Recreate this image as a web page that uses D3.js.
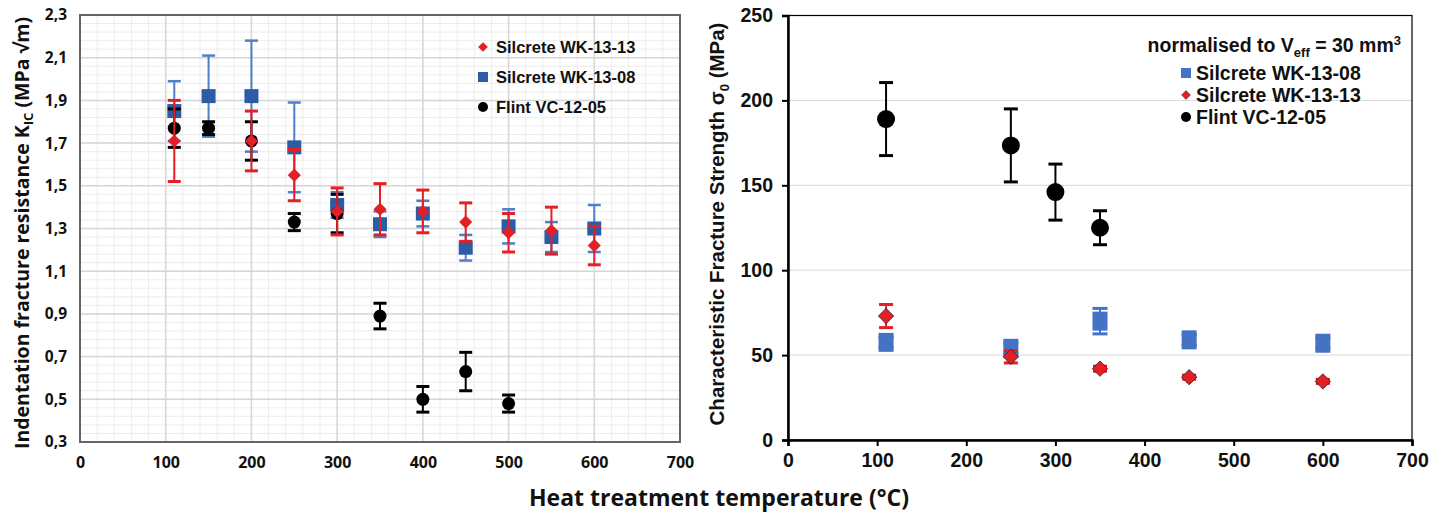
<!DOCTYPE html>
<html>
<head>
<meta charset="utf-8">
<script src="https://cdn.jsdelivr.net/npm/d3@7"></script>
<style>
  body { margin: 0; background: #fff; }
  .lbl { font-weight: bold; fill: #111; }
</style>
</head>
<body>
<svg id="chart" width="1445" height="514"></svg>
<script>
// ---- left panel: indentation fracture resistance ----
var tempsLeft = [110, 150, 200, 250, 300, 350, 400, 450, 500, 550, 600];
var kicWK1313 = [1.71, null, 1.71, 1.55, 1.38, 1.39, 1.38, 1.33, 1.28, 1.29, 1.22];
var kicWK1313Err = [0.19, null, 0.14, 0.12, 0.11, 0.12, 0.10, 0.09, 0.09, 0.11, 0.09];
var kicWK1308 = [1.85, 1.92, 1.92, 1.68, 1.41, 1.32, 1.37, 1.21, 1.31, 1.26, 1.30];
var kicWK1308Err = [0.14, 0.19, 0.26, 0.21, 0.06, 0.06, 0.06, 0.06, 0.08, 0.07, 0.11];
var tempsFlintLeft = [110, 150, 200, 250, 300, 350, 400, 450, 500];
var kicFlint = [1.77, 1.77, 1.71, 1.33, 1.37, 0.89, 0.50, 0.63, 0.48];
var kicFlintErr = [0.09, 0.03, 0.09, 0.04, 0.09, 0.06, 0.06, 0.09, 0.04];
var leftYTicks = [0.3, 0.5, 0.7, 0.9, 1.1, 1.3, 1.5, 1.7, 1.9, 2.1, 2.3];
var xTicks = [0, 100, 200, 300, 400, 500, 600, 700];

// ---- right panel: characteristic fracture strength ----
var tempsSilRight = [110, 250, 350, 450, 600];
var sigWK1308 = [57.5, 54, 70, 59, 57];
var sigWK1308Err = [3, 3, 7.5, 3, 3];
var sigWK1313 = [73, 49, 42, 37, 34.5];
var sigWK1313Err = [6.8, 3.6, 1.5, 1.2, 1.2];
var tempsFlintRight = [110, 250, 300, 350];
var sigFlint = [189, 173.5, 146, 125];
var sigFlintErr = [21.5, 21.5, 16.5, 10];
var rightYTicks = [0, 50, 100, 150, 200, 250];

var RED = '#e41f26', BLUE_L = '#2d5ca6', BLUE_L_ERR = '#4f7fc8', BLUE_R = '#4472c4';
var SANS = '"Liberation Sans", Arial, sans-serif', OPEN = '"Open Sans", sans-serif';

var svg = d3.select('#chart');
var comma = d3.formatLocale({ decimal: ',', thousands: '.', grouping: [3], currency: ['', ''] }).format('.1f');

function pts(xs, ys, es) {
    var out = [];
    xs.forEach(function(x, i) {
        if (ys[i] != null) out.push({ x: x, y: ys[i], e: es[i] });
    });
    return out;
}

// error bars with caps
function errBars(g, data, x, y, color, capW, sw, capSw) {
    var eb = g.append('g').selectAll('g').data(data).enter().append('g');
    eb.append('line')
        .attr('x1', function(d) { return x(d.x); }).attr('x2', function(d) { return x(d.x); })
        .attr('y1', function(d) { return y(d.y + d.e); }).attr('y2', function(d) { return y(d.y - d.e); })
        .attr('stroke', color).attr('stroke-width', sw);
    [1, -1].forEach(function(s) {
        eb.append('line')
            .attr('x1', function(d) { return x(d.x) - capW / 2; }).attr('x2', function(d) { return x(d.x) + capW / 2; })
            .attr('y1', function(d) { return y(d.y + s * d.e); }).attr('y2', function(d) { return y(d.y + s * d.e); })
            .attr('stroke', color).attr('stroke-width', capSw);
    });
}

// ================= LEFT =================
var L = { left: 80, right: 680, top: 15, bottom: 442 };
var xL = d3.scaleLinear().domain([0, 700]).range([L.left, L.right]);
var yL = d3.scaleLinear().domain([0.3, 2.3]).range([L.bottom, L.top]);
var gL = svg.append('g');

// minor grid
gL.append('g').selectAll('line').data(d3.range(0, 701, 20)).enter().append('line')
    .attr('x1', xL).attr('x2', xL).attr('y1', L.top).attr('y2', L.bottom)
    .attr('stroke', '#ededed').attr('stroke-width', 1);
gL.append('g').selectAll('line').data(d3.range(0, 51).map(function(k) { return 0.3 + k * 0.04; })).enter().append('line')
    .attr('y1', yL).attr('y2', yL).attr('x1', L.left).attr('x2', L.right)
    .attr('stroke', '#ededed').attr('stroke-width', 1);
// major grid
gL.append('g').selectAll('line').data(xTicks).enter().append('line')
    .attr('x1', xL).attr('x2', xL).attr('y1', L.top).attr('y2', L.bottom)
    .attr('stroke', '#d6d6d6').attr('stroke-width', 1.5);
gL.append('g').selectAll('line').data(leftYTicks).enter().append('line')
    .attr('y1', yL).attr('y2', yL).attr('x1', L.left).attr('x2', L.right)
    .attr('stroke', '#d6d6d6').attr('stroke-width', 1.5);
gL.append('rect').attr('x', L.left).attr('y', L.top).attr('width', L.right - L.left).attr('height', L.bottom - L.top)
    .attr('fill', 'none').attr('stroke', '#666').attr('stroke-width', 2);

var axL = gL.append('g').attr('transform', 'translate(0,' + L.bottom + ')')
    .call(d3.axisBottom(xL).tickValues(xTicks).tickSize(0).tickPadding(15));
axL.select('.domain').remove();
axL.selectAll('text').attr('class', 'lbl').style('font-family', OPEN).style('font-size', '16px');
var ayL = gL.append('g').attr('transform', 'translate(' + L.left + ',0)')
    .call(d3.axisLeft(yL).tickValues(leftYTicks).tickFormat(comma).tickSize(0).tickPadding(13));
ayL.select('.domain').remove();
ayL.selectAll('text').attr('class', 'lbl').style('font-family', OPEN).style('font-size', '15.5px');

// data: blue, black, red
var dBlueL = pts(tempsLeft, kicWK1308, kicWK1308Err);
var dBlackL = pts(tempsFlintLeft, kicFlint, kicFlintErr);
var dRedL = pts(tempsLeft, kicWK1313, kicWK1313Err);

errBars(gL, dBlueL, xL, yL, BLUE_L_ERR, 13, 2, 2.5);
gL.append('g').selectAll('rect').data(dBlueL).enter().append('rect')
    .attr('x', function(d) { return xL(d.x) - 7; }).attr('y', function(d) { return yL(d.y) - 7; })
    .attr('width', 14).attr('height', 14).attr('fill', BLUE_L);
errBars(gL, dBlackL, xL, yL, '#000', 13, 2, 3);
gL.append('g').selectAll('circle').data(dBlackL).enter().append('circle')
    .attr('cx', function(d) { return xL(d.x); }).attr('cy', function(d) { return yL(d.y); })
    .attr('r', 6.5).attr('fill', '#000');
errBars(gL, dRedL, xL, yL, RED, 13, 2, 3);
gL.append('g').selectAll('path').data(dRedL).enter().append('path')
    .attr('d', d3.symbol(d3.symbolDiamond2, 110))
    .attr('transform', function(d) { return 'translate(' + xL(d.x) + ',' + yL(d.y) + ')'; })
    .attr('fill', RED);

// left legend
var legL = gL.append('g').attr('transform', 'translate(483,0)');
var legLRows = [
    { name: 'Silcrete WK-13-13', kind: 'diamond', y: 47 },
    { name: 'Silcrete WK-13-08', kind: 'square', y: 77 },
    { name: 'Flint VC-12-05', kind: 'circle', y: 107 }
];
legLRows.forEach(function(r) {
    if (r.kind === 'diamond') legL.append('path').attr('d', d3.symbol(d3.symbolDiamond2, 60)).attr('transform', 'translate(0,' + r.y + ')').attr('fill', RED);
    if (r.kind === 'square') legL.append('rect').attr('x', -5).attr('y', r.y - 5).attr('width', 10).attr('height', 10).attr('fill', BLUE_L);
    if (r.kind === 'circle') legL.append('circle').attr('cy', r.y).attr('r', 5).attr('fill', '#000');
    legL.append('text').attr('class', 'lbl').attr('x', 13).attr('y', r.y).attr('dy', '0.35em')
        .style('font-family', SANS).style('font-size', '16.5px').text(r.name);
});

// left y title
var tL = gL.append('text').attr('class', 'lbl')
    .attr('transform', 'translate(29,233) rotate(-90)').attr('text-anchor', 'middle')
    .style('font-family', OPEN).style('font-size', '19.5px');
tL.append('tspan').text('Indentation fracture resistance K');
tL.append('tspan').attr('dy', 4).style('font-size', '13px').text('IC');
tL.append('tspan').attr('dy', -4).text(' (MPa \u221Am)');

// ================= RIGHT =================
var R = { left: 788, right: 1412, top: 15.5, bottom: 440 };
var xR = d3.scaleLinear().domain([0, 700]).range([R.left, R.right]);
var yR = d3.scaleLinear().domain([0, 250]).range([R.bottom, R.top]);
var gR = svg.append('g');

gR.append('g').selectAll('line').data(rightYTicks.slice(1, -1)).enter().append('line')
    .attr('y1', yR).attr('y2', yR).attr('x1', R.left).attr('x2', R.right)
    .attr('stroke', '#d9d9d9').attr('stroke-width', 1);
gR.append('rect').attr('x', R.left).attr('y', R.top).attr('width', R.right - R.left).attr('height', R.bottom - R.top)
    .attr('fill', 'none').attr('stroke', '#000').attr('stroke-width', 1.2);

var axR = gR.append('g').attr('transform', 'translate(0,' + R.bottom + ')')
    .call(d3.axisBottom(xR).tickValues(xTicks).tickSize(6).tickPadding(7));
axR.select('.domain').attr('stroke-width', 2.5);
axR.selectAll('line').attr('stroke-width', 2);
axR.selectAll('text').attr('class', 'lbl').style('font-family', SANS).style('font-size', '19.5px');
var ayR = gR.append('g').attr('transform', 'translate(' + R.left + ',0)')
    .call(d3.axisLeft(yR).tickValues(rightYTicks).tickSize(6).tickPadding(9));
ayR.select('.domain').attr('stroke-width', 2.5);
ayR.selectAll('line').attr('stroke-width', 2);
ayR.selectAll('text').attr('class', 'lbl').style('font-family', SANS).style('font-size', '19.5px');

var dBlackR = pts(tempsFlintRight, sigFlint, sigFlintErr);
var dBlueR = pts(tempsSilRight, sigWK1308, sigWK1308Err);
var dRedR = pts(tempsSilRight, sigWK1313, sigWK1313Err);

errBars(gR, dBlackR, xR, yR, '#000', 14, 2, 3);
gR.append('g').selectAll('circle').data(dBlackR).enter().append('circle')
    .attr('cx', function(d) { return xR(d.x); }).attr('cy', function(d) { return yR(d.y); })
    .attr('r', 9).attr('fill', '#000');
errBars(gR, dBlueR, xR, yR, BLUE_R, 15, 2, 3);
gR.append('g').selectAll('rect').data(dBlueR).enter().append('rect')
    .attr('x', function(d) { return xR(d.x) - 7.5; }).attr('y', function(d) { return yR(d.y) - 9.5; })
    .attr('width', 15).attr('height', 19).attr('fill', BLUE_R);
errBars(gR, dRedR, xR, yR, RED, 14, 2, 3);
gR.append('g').selectAll('path').data(dRedR).enter().append('path')
    .attr('d', d3.symbol(d3.symbolDiamond2, 150))
    .attr('transform', function(d) { return 'translate(' + xR(d.x) + ',' + yR(d.y) + ')'; })
    .attr('fill', RED).attr('stroke', '#222').attr('stroke-width', 0.8);

// right legend
var note = gR.append('text').attr('class', 'lbl').attr('x', 1401).attr('y', 52).attr('text-anchor', 'end')
    .style('font-family', SANS).style('font-size', '19.5px');
note.append('tspan').text('normalised to V');
note.append('tspan').attr('dy', 5).style('font-size', '13px').text('eff');
note.append('tspan').attr('dy', -5).text(' = 30 mm');
note.append('tspan').attr('dy', -7).style('font-size', '13px').text('3');

var legR = gR.append('g').attr('transform', 'translate(1186,0)');
var legRRows = [
    { name: 'Silcrete WK-13-08', kind: 'square', y: 73 },
    { name: 'Silcrete WK-13-13', kind: 'diamond', y: 95 },
    { name: 'Flint VC-12-05', kind: 'circle', y: 117 }
];
legRRows.forEach(function(r) {
    if (r.kind === 'diamond') legR.append('path').attr('d', d3.symbol(d3.symbolDiamond2, 50)).attr('transform', 'translate(0,' + r.y + ')').attr('fill', RED).attr('stroke', '#222').attr('stroke-width', 0.5);
    if (r.kind === 'square') legR.append('rect').attr('x', -5).attr('y', r.y - 5).attr('width', 10).attr('height', 10).attr('fill', BLUE_R);
    if (r.kind === 'circle') legR.append('circle').attr('cy', r.y).attr('r', 5).attr('fill', '#000');
    legR.append('text').attr('class', 'lbl').attr('x', 10).attr('y', r.y).attr('dy', '0.35em')
        .style('font-family', SANS).style('font-size', '19.5px').text(r.name);
});

// right y title
var tR = gR.append('text').attr('class', 'lbl')
    .attr('transform', 'translate(724,224) rotate(-90)').attr('text-anchor', 'middle')
    .style('font-family', SANS).style('font-size', '20.5px');
tR.append('tspan').text('Characteristic Fracture Strength \u03C3');
tR.append('tspan').attr('dy', 5).style('font-size', '13px').text('0');
tR.append('tspan').attr('dy', -5).text(' (MPa)');

// shared x title
svg.append('text').attr('class', 'lbl').attr('x', 719).attr('y', 506).attr('text-anchor', 'middle')
    .style('font-family', OPEN).style('font-size', '23px')
    .text('Heat treatment temperature (\u00B0C)');
</script>
</body>
</html>
